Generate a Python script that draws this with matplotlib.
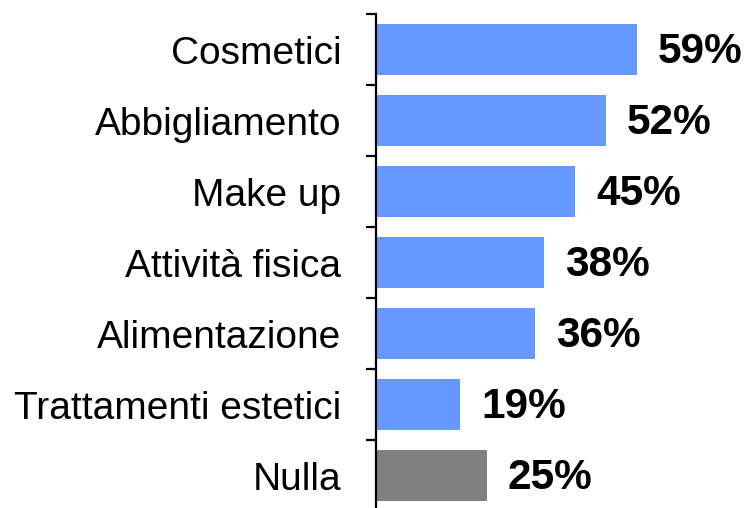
import matplotlib
matplotlib.use("Agg")
import matplotlib.pyplot as plt
import numpy as np

plt.rcParams['font.family'] = ['Liberation Sans', 'DejaVu Sans']

categories = ['Cosmetici', 'Abbigliamento', 'Make up', 'Attività fisica',
              'Alimentazione', 'Trattamenti estetici', 'Nulla']
values = [59, 52, 45, 38, 36, 19, 25]
colors = ['#6699FF'] * 6 + ['#808080']

fig = plt.figure(figsize=(7.5, 5.08), dpi=100)
ax = fig.add_axes([376 / 750, -3 / 508, 1 - 376 / 750, 497 / 508])

y = np.arange(len(categories))
ax.barh(y, values, height=0.72, color=colors, zorder=2)
ax.set_ylim(len(categories) - 0.5, -0.5)
ax.set_xlim(0, 374 / 4.42)

for yi, v in zip(y, values):
    ax.text(v + 21 / 4.42, yi + 0.04, f'{v}%', va='center', ha='left',
            fontsize=30.5, fontweight='bold')

# category labels
ax.set_yticks(y)
ax.set_yticklabels(categories, fontsize=28)
ax.tick_params(axis='y', which='major', length=0, pad=25)
# boundary ticks
ax.set_yticks(np.arange(-0.5, len(categories)), minor=True)
ax.tick_params(axis='y', which='minor', length=7.5, width=1.6, direction='out')

for s in ['top', 'right', 'bottom']:
    ax.spines[s].set_visible(False)
ax.spines['left'].set_linewidth(1.6)
ax.set_xticks([])

fig.savefig('out.png', dpi=100)
